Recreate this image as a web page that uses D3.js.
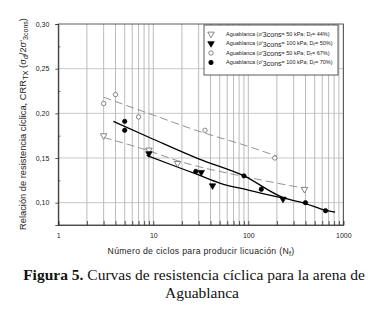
<!DOCTYPE html>
<html>
<head>
<meta charset="utf-8">
<title>Curvas de resistencia cíclica - Aguablanca</title>
<style>
  body { margin: 0; background: #fff; }
  svg { display: block; }
</style>
</head>
<body>
<svg width="374" height="311"></svg>
<script src="https://d3js.org/d3.v7.min.js"></script>
<script>

// ensayos: numero de ciclos (Nf) y CRR
// ▽ 50 kPa, Dr = 44%
nTri44 = [3, 9, 18, 390]
crrTri44 = [0.175, 0.159, 0.144, 0.115]
// ▼ 100 kPa, Dr = 50%
nTri50 = [9, 32, 42, 232]
crrTri50 = [0.155, 0.134, 0.119, 0.104]
// ○ 50 kPa, Dr = 67%
nCirc67 = [3, 4, 7, 35, 190]
crrCirc67 = [0.211, 0.221, 0.196, 0.181, 0.150]
// ● 100 kPa, Dr = 70%
nCirc70 = [5, 5, 28, 90, 137, 400, 650]
crrCirc70 = [0.191, 0.181, 0.135, 0.130, 0.115, 0.100, 0.091]

// curvas de ajuste
curvaN44 = [3, 9, 18, 31, 75, 390]
curva44 = [0.173, 0.158, 0.147, 0.140, 0.131, 0.116]
curvaN50 = [8.5, 15, 30, 50, 100, 232]
curva50 = [0.153, 0.143, 0.131, 0.122, 0.114, 0.105]
curvaN67 = [3, 10, 30, 100, 200]
curva67 = [0.218, 0.198, 0.180, 0.163, 0.152]
curvaN70 = [3.8, 10, 30, 90, 230, 400, 650, 820]
curva70 = [0.191, 0.171, 0.149, 0.130, 0.106, 0.099, 0.0915, 0.0895]

yTicks = [0.10, 0.15, 0.20, 0.25, 0.30]
xTicks = [1, 10, 100, 1000]

leyenda = [
  {kPa: "50", dr: "44%", sym: "triOpen"},
  {kPa: "100", dr: "50%", sym: "triFill"},
  {kPa: "50", dr: "67%", sym: "circOpen"},
  {kPa: "100", dr: "70%", sym: "circFill"}
]

const svg = d3.select("svg")
const mLeft = 58.3, mRight = 343.3, mTop = 24, mBottom = 225

const x = d3.scaleLog().domain([1, 1000]).range([mLeft, mRight])
const y = d3.scaleLinear().domain([0.075, 0.30]).range([mBottom, mTop])

// todas las posiciones 1..9 de cada decada
const xMinor = []
for (let d = 1; d <= 100; d *= 10) for (let k = 1; k < 10; k++) xMinor.push(d * k)
xMinor.push(1000)

// rejilla
svg.append("g").selectAll("line").data(xMinor).join("line")
    .attr("x1", d => x(d)).attr("x2", d => x(d))
    .attr("y1", mTop).attr("y2", mBottom)
    .attr("stroke", "#aaa").attr("stroke-width", 0.8)
svg.append("g").selectAll("line").data(yTicks.slice(0, 4)).join("line")
    .attr("x1", mLeft).attr("x2", mRight)
    .attr("y1", d => y(d)).attr("y2", d => y(d))
    .attr("stroke", "#bbb").attr("stroke-width", 0.8)

// ejes
const fmt = d => d3.format(".2f")(d).replace(".", ",")
const gx = svg.append("g").attr("transform", `translate(0,${mBottom})`)
    .call(d3.axisBottom(x).tickValues(xMinor).tickSize(-4).tickPadding(8)
      .tickFormat(d => xTicks.includes(d) ? d : ""))
const gy = svg.append("g").attr("transform", `translate(${mLeft},0)`)
    .call(d3.axisLeft(y).tickValues(yTicks).tickSize(3).tickPadding(6).tickFormat(fmt))
svg.append("g").attr("transform", `translate(${mLeft},0)`)
    .call(d3.axisLeft(y).tickValues([0.125, 0.175, 0.225, 0.275]).tickSize(-2).tickFormat(""))
    .call(g => g.select(".domain").remove())
svg.selectAll(".tick text").attr("font-family", "Liberation Sans, Arial, sans-serif")
    .attr("font-size", 7).attr("fill", "#222")
svg.selectAll(".domain, .tick line").attr("stroke", "#333").attr("stroke-width", 0.8)

// marco
svg.append("rect").attr("x", mLeft).attr("y", mTop)
    .attr("width", mRight - mLeft).attr("height", mBottom - mTop)
    .attr("fill", "none").attr("stroke", "#333").attr("stroke-width", 0.8)

// curvas
const line = d3.line().curve(d3.curveMonotoneX).x(d => x(d[0])).y(d => y(d[1]))
const curvas = [
  [d3.zip(curvaN44, curva44), true],
  [d3.zip(curvaN67, curva67), true],
  [d3.zip(curvaN50, curva50), false],
  [d3.zip(curvaN70, curva70), false]
]
svg.append("g").attr("fill", "none").selectAll("path").data(curvas).join("path")
    .attr("d", d => line(d[0]))
    .attr("stroke", d => d[1] ? "#777" : "#000")
    .attr("stroke-width", d => d[1] ? 0.8 : 1.3)
    .attr("stroke-dasharray", d => d[1] ? "8,4" : null)

// simbolos
function drawSym(g, sym, px, py) {
  if (sym === "triOpen" || sym === "triFill") {
    g.append("path")
      .attr("d", d3.symbol(d3.symbolTriangle, 18)())
      .attr("transform", `translate(${px},${py}) rotate(180)`)
      .attr("fill", sym === "triFill" ? "#000" : "#fff")
      .attr("stroke", sym === "triFill" ? "#000" : "#555").attr("stroke-width", 0.7)
  } else {
    g.append("circle").attr("cx", px).attr("cy", py).attr("r", 2.2)
      .attr("fill", sym === "circFill" ? "#000" : "#fff")
      .attr("stroke", sym === "circFill" ? "#000" : "#555").attr("stroke-width", 0.7)
  }
}
const pts = svg.append("g")
const series = [[nTri44, crrTri44, "triOpen"], [nCirc67, crrCirc67, "circOpen"],
                [nTri50, crrTri50, "triFill"], [nCirc70, crrCirc70, "circFill"]]
series.forEach(s => s[0].forEach((n, i) => drawSym(pts, s[2], x(n), y(s[1][i]))))

// leyenda
const lg = svg.append("g")
lg.append("rect").attr("x", 204).attr("y", 25).attr("width", 134).attr("height", 50)
    .attr("fill", "#fff").attr("stroke", "#333").attr("stroke-width", 0.8)
leyenda.forEach((d, i) => {
  const ly = 34 + i * 9.5
  drawSym(lg, d.sym, 211, ly)
  const t = lg.append("text").attr("x", 226).attr("y", ly + 1.8)
      .attr("font-family", "Liberation Sans, Arial, sans-serif").attr("font-size", 5.5).attr("fill", "#222")
  t.append("tspan").text("Aguablanca (σ'")
  t.append("tspan").attr("font-size", 7).attr("dy", 1.2).text("3cons")
  t.append("tspan").attr("dy", -1.2).text(`= ${d.kPa} kPa;  D`)
  t.append("tspan").attr("dy", 1).attr("font-size", 4.5).text("r")
  t.append("tspan").attr("dy", -1).text(`= ${d.dr})`)
})

// titulos de ejes
const xt = svg.append("text").attr("x", 201).attr("y", 254).attr("text-anchor", "middle")
    .attr("font-family", "Liberation Sans, Arial, sans-serif").attr("font-size", 8.7)
    .attr("letter-spacing", 0.3).attr("fill", "#222")
xt.append("tspan").text("Número de ciclos para producir licuación (N")
xt.append("tspan").attr("dy", 1.5).attr("font-size", 7).text("f")
xt.append("tspan").attr("dy", -1.5).text(")")

const yt = svg.append("text").attr("transform", "translate(26,124) rotate(-90)")
    .attr("text-anchor", "middle")
    .attr("font-family", "Liberation Sans, Arial, sans-serif").attr("font-size", 9.3).attr("fill", "#222")
yt.append("tspan").text("Relación de resistencia cíclica, CRR")
yt.append("tspan").attr("dy", 2).attr("font-size", 7.5).text("TX")
yt.append("tspan").attr("dy", -2).text(" (σ")
yt.append("tspan").attr("dy", 1.5).attr("font-size", 7).text("d")
yt.append("tspan").attr("dy", -1.5).text("/2σ'")
yt.append("tspan").attr("dy", 1.5).attr("font-size", 7).text("3cons")
yt.append("tspan").attr("dy", -1.5).text(")")

// pie de figura
const cap = svg.append("g").attr("font-family", "Liberation Serif, Times New Roman, serif")
    .attr("font-size", 15.5).attr("fill", "#111").attr("text-anchor", "middle")
const c1 = cap.append("text").attr("x", 194).attr("y", 280)
c1.append("tspan").attr("font-weight", "bold").text("Figura 5.")
c1.append("tspan").text(" Curvas de resistencia cíclica para la arena de")
cap.append("text").attr("x", 202).attr("y", 298).text("Aguablanca")

</script>
</body>
</html>
